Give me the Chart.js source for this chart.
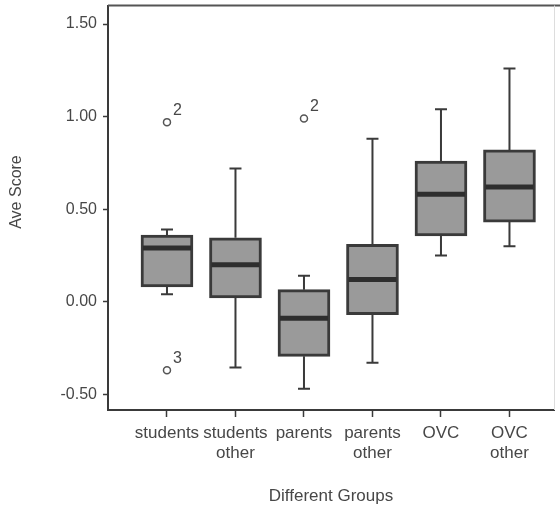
<!DOCTYPE html>
<html>
<head>
<meta charset="utf-8">
<script src="https://cdn.jsdelivr.net/npm/chart.js@4"></script>
<style>
  body { margin: 0; background: #fff; overflow: hidden; }
  #caja { width: 560px; height: 511px; }
</style>
</head>
<body>
<div id="caja"><canvas id="grafico"></canvas></div>
<script>
// datos
const grupos = [['students'], ['students', 'other'], ['parents'], ['parents', 'other'], ['OVC'], ['OVC', 'other']];
const bigoteBajo = [0.04, -0.355, -0.47, -0.33, 0.25, 0.30];
const cuartil1 = [0.08, 0.02, -0.295, -0.07, 0.355, 0.43];
const mediana = [0.29, 0.20, -0.09, 0.12, 0.58, 0.62];
const cuartil3 = [0.36, 0.345, 0.065, 0.31, 0.76, 0.82];
const bigoteAlto = [0.39, 0.72, 0.14, 0.88, 1.04, 1.26];
const atipicosX = [1, 1, 3];
const atipicosY = [0.97, -0.37, 0.99];
const atipicosEtiqueta = ['2', '3', '2'];
const ticksY = [-0.5, 0, 0.5, 1, 1.5];

const colorTexto = '#474747';
const colorLinea = '#3a3a3a';
const fuente = 'Liberation Sans, Arial, sans-serif';

// bigotes, medianas, marco y etiquetas que Chart.js no dibuja solo
const cajasPlugin = {
    id: 'cajas',
    beforeDatasetsDraw(chart) {
        const ctx = chart.ctx;
        const xs = chart.scales.x;
        const ys = chart.scales.y;
        ctx.save();
        ctx.strokeStyle = colorLinea;
        ctx.lineWidth = 2;
        grupos.forEach((g, i) => {
            const x = xs.getPixelForValue(i + 1);
            const yAlto = ys.getPixelForValue(bigoteAlto[i]);
            const yBajo = ys.getPixelForValue(bigoteBajo[i]);
            ctx.beginPath();
            ctx.moveTo(x, yAlto);
            ctx.lineTo(x, ys.getPixelForValue(cuartil3[i]));
            ctx.moveTo(x, yBajo);
            ctx.lineTo(x, ys.getPixelForValue(cuartil1[i]));
            ctx.moveTo(x - 6, yAlto);
            ctx.lineTo(x + 6, yAlto);
            ctx.moveTo(x - 6, yBajo);
            ctx.lineTo(x + 6, yBajo);
            ctx.stroke();
        });
        ctx.restore();
    },
    afterDatasetsDraw(chart) {
        const ctx = chart.ctx;
        const xs = chart.scales.x;
        const ys = chart.scales.y;
        ctx.save();
        ctx.strokeStyle = '#2e2e2e';
        ctx.lineWidth = 5;
        grupos.forEach((g, i) => {
            const x = xs.getPixelForValue(i + 1);
            const y = ys.getPixelForValue(mediana[i]);
            ctx.beginPath();
            ctx.moveTo(x - 24, y);
            ctx.lineTo(x + 24, y);
            ctx.stroke();
        });
        ctx.fillStyle = colorTexto;
        ctx.font = '16px ' + fuente;
        ctx.textAlign = 'left';
        ctx.textBaseline = 'middle';
        atipicosY.forEach((v, i) => {
            const x = xs.getPixelForValue(atipicosX[i]);
            const y = ys.getPixelForValue(v);
            ctx.fillText(atipicosEtiqueta[i], x + 6, y - 12);
        });
        ctx.restore();
    },
    afterDraw(chart) {
        const ctx = chart.ctx;
        const a = chart.chartArea;
        ctx.save();
        ctx.strokeStyle = '#555';
        ctx.lineWidth = 2;
        ctx.beginPath();
        ctx.moveTo(a.left, a.top);
        ctx.lineTo(a.right + 6, a.top);
        ctx.stroke();
        ctx.strokeStyle = '#ddd';
        ctx.lineWidth = 1;
        ctx.beginPath();
        ctx.moveTo(a.right + 0.5, a.top);
        ctx.lineTo(a.right + 0.5, a.bottom);
        ctx.stroke();
        ctx.fillStyle = colorTexto;
        ctx.font = '16px ' + fuente;
        ctx.textAlign = 'center';
        ctx.textBaseline = 'middle';
        ctx.translate(17, 192);
        ctx.rotate(-Math.PI / 2);
        ctx.fillText('Ave Score', 0, 0);
        ctx.restore();
    }
};

new Chart(document.getElementById('grafico'), {
    data: {
        datasets: [
            {
                type: 'bar',
                data: grupos.map((g, i) => ({ x: i + 1, y: [cuartil1[i], cuartil3[i]] })),
                backgroundColor: '#9a9a9a',
                borderColor: colorLinea,
                borderWidth: 3,
                borderSkipped: false,
                barThickness: 52
            },
            {
                type: 'scatter',
                data: atipicosY.map((v, i) => ({ x: atipicosX[i], y: v })),
                pointStyle: 'circle',
                pointRadius: 3.5,
                pointBorderWidth: 1.5,
                pointBackgroundColor: '#fff',
                pointBorderColor: '#555'
            }
        ]
    },
    options: {
        responsive: true,
        maintainAspectRatio: false,
        animation: false,
        layout: { padding: { top: 4, right: 6, left: 0, bottom: 0 } },
        plugins: { legend: { display: false }, tooltip: { enabled: false } },
        scales: {
            x: {
                type: 'linear',
                min: 0.139,
                max: 6.65,
                offset: false,
                afterBuildTicks: (s) => { s.ticks = grupos.map((g, i) => ({ value: i + 1 })); },
                afterFit: (s) => { s.height = 101; s.paddingLeft = 0; s.paddingRight = 0; },
                grid: { offset: false, drawOnChartArea: false, tickLength: 7, tickWidth: 1.5, tickColor: colorLinea },
                border: { display: true, color: colorLinea, width: 2 },
                ticks: {
                    autoSkip: false,
                    maxRotation: 0,
                    padding: 6,
                    color: colorTexto,
                    font: { family: fuente, size: 17, lineHeight: 1.2 },
                    callback: (v) => grupos[Math.round(v) - 1]
                },
                title: {
                    display: true,
                    text: 'Different Groups',
                    color: colorTexto,
                    font: { family: fuente, size: 17 },
                    padding: { top: 0, bottom: 4 }
                }
            },
            y: {
                min: -0.585,
                max: 1.60,
                afterBuildTicks: (s) => { s.ticks = ticksY.map(v => ({ value: v })); },
                afterFit: (s) => { s.width = 108; s.paddingTop = 0; s.paddingBottom = 0; },
                grid: { drawOnChartArea: false, tickLength: 5, tickWidth: 1.5, tickColor: colorLinea },
                border: { display: true, color: colorLinea, width: 2 },
                ticks: {
                    padding: 6,
                    color: colorTexto,
                    font: { family: fuente, size: 16 },
                    callback: (v) => v.toFixed(2)
                }
            }
        }
    },
    plugins: [cajasPlugin]
});
</script>
</body>
</html>
